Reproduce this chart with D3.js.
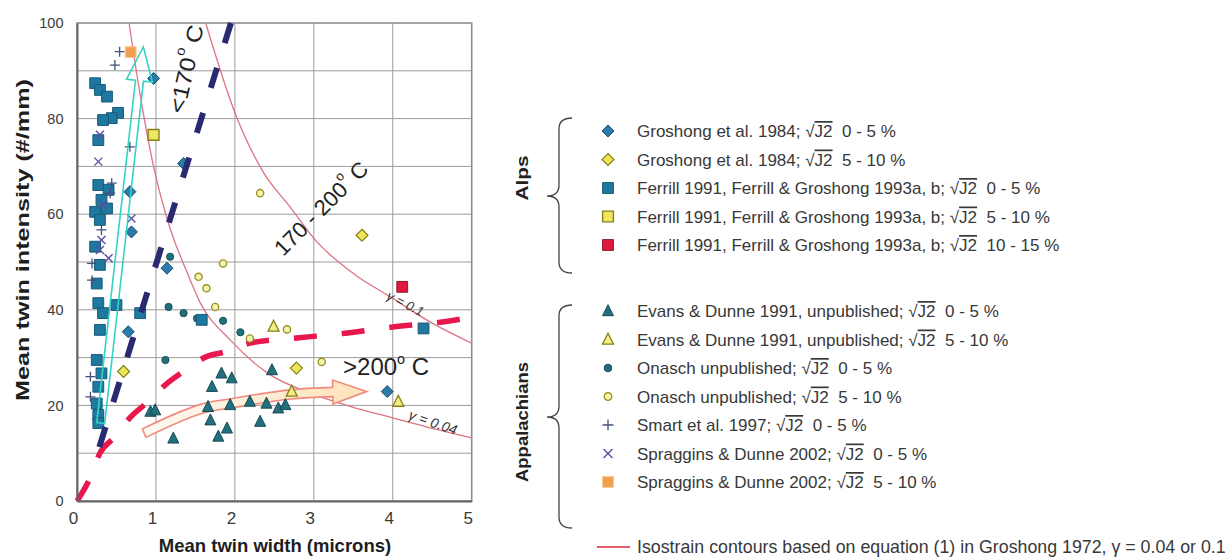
<!DOCTYPE html>
<html>
<head>
<meta charset="utf-8">
<script src="https://cdn.jsdelivr.net/npm/d3@7"></script>
<style>
  body { margin: 0; background: #fff; }
  svg text { font-family: "Liberation Sans", Arial, Helvetica, sans-serif; }
</style>
</head>
<body>
<svg id="chart" width="1226" height="560"></svg>
<script>
// ---- twin data: [mean twin width (microns), mean twin intensity (#/mm)] ----
const groshong05   = [[0.97,88.4],[1.35,70.6],[0.67,64.7],[0.69,56.3],[1.14,48.7],[0.65,35.4],[3.93,22.9]];
const groshong510  = [[0.59,27.1],[2.78,27.8],[3.61,55.6]];
const ferrill05    = [[0.23,87.4],[0.29,86.0],[0.38,84.6],[0.52,81.2],[0.44,80.1],[0.33,79.7],[0.27,75.5],
                      [0.27,66.1],[0.40,65.1],[0.31,63.0],[0.23,60.5],[0.38,61.2],[0.29,58.8],[0.23,53.2],
                      [0.29,49.4],[0.25,45.5],[0.27,41.4],[0.33,39.3],[0.50,41.0],[0.29,35.8],[0.25,29.5],
                      [0.31,26.7],[0.27,23.9],[0.25,20.4],[0.27,18.0],[0.27,16.3],[0.80,39.3],[1.58,37.9],[4.39,36.1]];
const ferrill510   = [[0.97,76.6]];
const ferrill1015  = [[4.12,44.8]];
const evans05      = [[0.93,18.7],[0.99,19.0],[1.22,13.1],[1.83,26.7],[1.96,25.7],[1.71,23.9],[2.47,27.4],
                      [1.66,19.7],[1.94,20.1],[2.19,20.8],[2.40,20.4],[2.55,19.4],[2.64,20.1],[1.69,16.9],
                      [1.90,15.2],[1.79,13.5],[2.32,16.6]];
const evans510     = [[2.49,36.5],[2.72,22.9],[4.07,20.8]];
const onasch05     = [[1.18,51.1],[1.16,40.6],[1.12,29.5],[1.35,39.3],[1.52,38.2],[1.85,37.7],[2.07,35.3]];
const onasch510    = [[2.32,64.4],[1.85,49.7],[1.54,46.9],[1.64,44.5],[1.75,40.6],[2.66,35.9],[3.10,29.1],[2.19,34.0]];
const smart05      = [[0.54,94.0],[0.48,91.2],[0.67,74.1],[0.44,66.5],[0.42,64.4],[0.31,56.7],[0.19,49.7],
                      [0.19,46.2],[0.17,26.0],[0.17,21.8]];
const spraggins05  = [[0.29,76.6],[0.27,71.0],[0.69,59.1],[0.31,54.6],[0.29,52.5],[0.40,50.8],[0.33,62.0]];
const spraggins510 = [[0.68,93.9]];

// legend texts
const sourceLabels = [
  "Groshong et al. 1984; ", "Groshong et al. 1984; ",
  "Ferrill 1991, Ferrill & Groshong 1993a, b; ", "Ferrill 1991, Ferrill & Groshong 1993a, b; ",
  "Ferrill 1991, Ferrill & Groshong 1993a, b; ",
  "Evans & Dunne 1991, unpublished; ", "Evans & Dunne 1991, unpublished; ",
  "Onasch unpublished; ", "Onasch unpublished; ", "Smart et al. 1997; ",
  "Spraggins & Dunne 2002; ", "Spraggins & Dunne 2002; "
];
const strainRanges = ["0 - 5 %","5 - 10 %","0 - 5 %","5 - 10 %","10 - 15 %","0 - 5 %","5 - 10 %",
                      "0 - 5 %","5 - 10 %","0 - 5 %","0 - 5 %","5 - 10 %"];
const regionLabels = ["Alps", "Appalachians"];
const contourLabel = "Isostrain contours based on equation (1) in Groshong 1972, \u03b3 = 0.04 or 0.1";

// isostrain contours (gamma = 0.04 and 0.1)
const isostrain004 = [[0.66,100],[0.78,87],[0.97,70],[1.18,57],[1.39,48],[1.56,41.5],[1.94,33.7],
                      [2.41,26.8],[3.0,22.3],[3.5,19.6],[4.0,17.4],[4.5,15.2],[5.0,13.2]];
const isostrain01  = [[1.63,100],[2.02,80.4],[2.36,68.8],[2.7,61.5],[3.04,54.2],[3.5,47.6],
                      [3.97,42.7],[4.5,37.2],[5.0,33.0]];
// temperature trend guides
const trendCool = [[0.24,9],[1.95,100]];
const trendWarm = [[0,0],[0.165,4.8],[0.29,10],[0.48,13.4],[0.67,17.4],[0.88,20.5],[1.12,24.3],
                   [1.34,27.0],[1.64,30.2],[1.88,31.2],[2.21,33.1],[2.78,34.1],[3.4,35.1],
                   [4.0,36.4],[4.6,37.4],[4.95,38.3]];
const arrowCool = [[0.30,16.3],[0.84,95.0]];
const arrowWarm = [[0.85,14.2],[1.56,19.2],[1.98,20.5],[2.70,22.3],[3.24,22.8],[3.67,22.9]];

const xTicks = [0,1,2,3,4,5];
const yTicks = [0,20,40,60,80,100];

// ---- scales ----
const x = d3.scaleLinear().domain([0,5]).range([77,471.7]);
const y = d3.scaleLinear().domain([0,100]).range([501,23]);

const svg = d3.select("#chart");

// marker shapes
const shapes = {
  square:   s => `M${-s},${-s}H${s}V${s}H${-s}Z`,
  diamond:  s => `M0,${-s}L${s},0L0,${s}L${-s},0Z`,
  triangle: s => `M0,${-s*1.15}L${s},${s*0.85}L${-s},${s*0.85}Z`,
  circle:   s => `M${s},0A${s},${s} 0 1,1 ${-s},0A${s},${s} 0 1,1 ${s},0Z`,
  plus:     s => `M${-s},0H${s}M0,${-s}V${s}`,
  cross:    s => `M${-s},${-s}L${s},${s}M${s},${-s}L${-s},${s}`
};

const series = [
  {data: groshong05,   shape:"diamond",  size:6,   fill:"#2b7cab", stroke:"#1a4c70", sw:1},
  {data: groshong510,  shape:"diamond",  size:6,   fill:"#ece55a", stroke:"#86801c", sw:1.2},
  {data: ferrill05,    shape:"square",   size:5.4, fill:"#1f789f", stroke:"#175a78", sw:1},
  {data: ferrill510,   shape:"square",   size:5.4, fill:"#eee85e", stroke:"#86801c", sw:1.4},
  {data: ferrill1015,  shape:"square",   size:5.4, fill:"#e0193f", stroke:"#8c1a2a", sw:1},
  {data: evans05,      shape:"triangle", size:5.5, fill:"#22707e", stroke:"#1a4a55", sw:1},
  {data: evans510,     shape:"triangle", size:5.5, fill:"#f2ee80", stroke:"#86801c", sw:1.3},
  {data: onasch05,     shape:"circle",   size:3.6, fill:"#1f7078", stroke:"#1a5058", sw:1},
  {data: onasch510,    shape:"circle",   size:3.6, fill:"#f6f3b0", stroke:"#98941e", sw:1.4},
  {data: smart05,      shape:"plus",     size:5,   fill:"none",    stroke:"#44507a", sw:1.3},
  {data: spraggins05,  shape:"cross",    size:4,   fill:"none",    stroke:"#5a4ea2", sw:1.4},
  {data: spraggins510, shape:"square",   size:5.4, fill:"#f3a04e", stroke:"#f7c894", sw:1}
];
series.forEach((s, i) => { s.label = sourceLabels[i]; s.range = strainRanges[i]; });

// ---- plot background grid ----
const plot = svg.append("g");
plot.append("g").selectAll("line").data(y.ticks(10).filter(v => v > 0 && v < 100)).join("line")
  .attr("x1", x(0)).attr("x2", x(5)).attr("y1", d => y(d)).attr("y2", d => y(d))
  .attr("stroke", "#9c9c9c").attr("stroke-width", 1);
plot.append("g").selectAll("line").data(x.ticks(5).filter(v => v > 0 && v < 5)).join("line")
  .attr("y1", y(0)).attr("y2", y(100)).attr("x1", d => x(d)).attr("x2", d => x(d))
  .attr("stroke", "#9c9c9c").attr("stroke-width", 1);
plot.append("rect").attr("x", x(0)).attr("y", y(100))
  .attr("width", x(5) - x(0)).attr("height", y(0) - y(100))
  .attr("fill", "none").attr("stroke", "#8e8e8e").attr("stroke-width", 1.6);

// ---- axes ----
const xAxis = svg.append("g").attr("transform", `translate(0,${y(0)})`)
  .call(d3.axisBottom(x).tickValues(xTicks).tickSize(0).tickPadding(11).tickFormat(d3.format("d")));
xAxis.select(".domain").attr("stroke", "#666").attr("stroke-width", 2);
xAxis.selectAll("text").attr("font-size", 17).attr("fill", "#3a3a3a").attr("dx", -4)
  .style("font-family", "'Liberation Sans', Arial, sans-serif");

const yAxis = svg.append("g").attr("transform", `translate(${x(0)},0)`)
  .call(d3.axisLeft(y).tickValues(yTicks).tickSize(0).tickPadding(13.5));
yAxis.select(".domain").attr("stroke", "#666").attr("stroke-width", 2);
yAxis.selectAll("text").attr("font-size", 14.5).attr("fill", "#3a3a3a")
  .style("font-family", "'Liberation Sans', Arial, sans-serif");

svg.append("text").attr("x", 275).attr("y", 552).attr("text-anchor", "middle")
  .attr("font-size", 18.5).attr("font-weight", "bold").attr("fill", "#1e1e1e")
  .text("Mean twin width (microns)");
svg.append("text").attr("transform", "translate(28.5,240) rotate(-90)")
  .attr("text-anchor", "middle").attr("font-size", 18).attr("font-weight", "bold").attr("fill", "#1e1e1e")
  .attr("textLength", 322).attr("lengthAdjust", "spacingAndGlyphs")
  .text("Mean twin intensity (#/mm)");

// ---- isostrain contours ----
const curve = d3.line().x(d => x(d[0])).y(d => y(d[1])).curve(d3.curveMonotoneX);
[isostrain004, isostrain01].forEach(c => {
  plot.append("path").attr("d", curve(c)).attr("fill", "none")
    .attr("stroke", "#dc7482").attr("stroke-width", 1.3);
});

// ---- warm-trend hollow arrow (curved) ----
const defs = svg.append("defs");
const grad = defs.append("linearGradient").attr("id", "warmFill")
  .attr("x1", "0%").attr("x2", "100%").attr("y1", "0%").attr("y2", "0%");
grad.append("stop").attr("offset", "0%").attr("stop-color", "#fffaf4");
grad.append("stop").attr("offset", "100%").attr("stop-color", "#fde2b8");

function hollowArrow(points, shaftW, headW) {
  const p = points.map(d => [x(d[0]), y(d[1])]);
  const n = p.length;
  const tip = p[n - 1], base = p[n - 2];
  const left = [], right = [];
  for (let i = 0; i < n - 1; i++) {
    const a = p[Math.max(0, i - 1)], b = p[Math.min(n - 1, i + 1)];
    const dx = b[0] - a[0], dy = b[1] - a[1], L = Math.hypot(dx, dy);
    const nx = -dy / L, ny = dx / L;
    left.push([p[i][0] + nx * shaftW, p[i][1] + ny * shaftW]);
    right.push([p[i][0] - nx * shaftW, p[i][1] - ny * shaftW]);
  }
  const hx = tip[0] - base[0], hy = tip[1] - base[1], hl = Math.hypot(hx, hy);
  const hnx = -hy / hl, hny = hx / hl;
  const edge = d3.line().curve(d3.curveCatmullRom);
  return edge(left) +
    `L${base[0] + hnx * headW},${base[1] + hny * headW}` +
    `L${tip[0]},${tip[1]}` +
    `L${base[0] - hnx * headW},${base[1] - hny * headW}` +
    edge(right.slice().reverse()).replace(/^M/, "L") + "Z";
}
plot.append("path").attr("d", hollowArrow(arrowWarm, 4.6, 12))
  .attr("fill", "url(#warmFill)").attr("stroke", "#f08a7c").attr("stroke-width", 1.6)
  .attr("stroke-linejoin", "miter");

// ---- warm dashed trend ----
plot.append("path").attr("d", curve(trendWarm)).attr("fill", "none")
  .attr("stroke", "#e8184c").attr("stroke-width", 5.5).attr("stroke-dasharray", "23,25");

// ---- data markers ----
const order = [5, 6, 7, 8, 2, 0, 1, 3, 4, 9, 10, 11];
order.forEach(i => {
  const s = series[i];
  plot.append("g").selectAll("path").data(s.data).join("path")
    .attr("transform", d => `translate(${x(d[0])},${y(d[1])})`)
    .attr("d", shapes[s.shape](s.size))
    .attr("fill", s.fill).attr("stroke", s.stroke).attr("stroke-width", s.sw);
});

// ---- cool dashed trend ----
const straight = d3.line().x(d => x(d[0])).y(d => y(d[1]));
plot.append("path").attr("d", straight(trendCool.slice().reverse())).attr("fill", "none")
  .attr("stroke", "#2a2a70").attr("stroke-width", 6).attr("stroke-dasharray", "21,26");

// ---- cool-trend hollow arrow ----
(function () {
  const T = [x(arrowCool[0][0]), y(arrowCool[0][1])];
  const P = [x(arrowCool[1][0]), y(arrowCool[1][1])];
  const dx = P[0] - T[0], dy = P[1] - T[1], L = Math.hypot(dx, dy);
  const ux = dx / L, uy = dy / L, nx = -uy, ny = ux;
  const w = 4, hw = 13, hl = 34;
  const B = [P[0] - ux * hl, P[1] - uy * hl];
  const pts = [
    [T[0] + nx * w, T[1] + ny * w], [B[0] + nx * w, B[1] + ny * w], [B[0] + nx * hw, B[1] + ny * hw],
    P, [B[0] - nx * hw, B[1] - ny * hw], [B[0] - nx * w, B[1] - ny * w], [T[0] - nx * w, T[1] - ny * w]
  ];
  plot.append("path").attr("d", d3.line()(pts) + "Z").attr("fill", "none")
    .attr("stroke", "#33d3c6").attr("stroke-width", 1.6);
})();

// ---- annotations ----
function degreeLabel(t, before, after) {
  t.append("tspan").text(before);
  t.append("tspan").attr("font-size", "0.6em").attr("dy", "-0.75em").text("o");
  t.append("tspan").attr("dy", "0.45em").text("\u00a0" + after);
}
const ann = svg.append("g").attr("fill", "#222");
degreeLabel(ann.append("text")
  .attr("transform", `translate(${x(1.38)},${y(90.4)}) rotate(-77)`)
  .attr("text-anchor", "middle").attr("dominant-baseline", "central").attr("font-size", 22)
  .attr("textLength", 90).attr("lengthAdjust", "spacingAndGlyphs"),
  "<170", "C");
degreeLabel(ann.append("text")
  .attr("transform", `translate(${x(3.09)},${y(61.3)}) rotate(-45)`)
  .attr("text-anchor", "middle").attr("dominant-baseline", "central").attr("font-size", 22),
  "170 - 200", "C");
degreeLabel(ann.append("text").attr("x", x(3.37)).attr("y", y(26.4)).attr("font-size", 24),
  ">200", "C");
ann.append("text").attr("transform", `translate(${x(4.16)},${y(41.3)}) rotate(27)`)
  .attr("text-anchor", "middle").attr("dominant-baseline", "central")
  .attr("font-size", 13).attr("font-style", "italic").attr("fill", "#333").text("\u03b3 = 0.1");
ann.append("text").attr("transform", `translate(${x(4.51)},${y(16.5)}) rotate(19)`)
  .attr("text-anchor", "middle").attr("dominant-baseline", "central")
  .attr("font-size", 14).attr("font-style", "italic").attr("fill", "#333").text("\u03b3 = 0.04");

// ---- legend ----
const legend = svg.append("g");
const rowY = i => i < 5 ? 131 + 28.5 * i : 311 + 28.5 * (i - 5);
series.forEach((s, i) => {
  const cy = rowY(i);
  const sz = s.shape === "circle" ? 3.8 : s.shape === "plus" ? 5.5 : s.shape === "cross" ? 4.5 : s.size;
  legend.append("path").attr("transform", `translate(608,${cy})`)
    .attr("d", shapes[s.shape](sz))
    .attr("fill", s.fill).attr("stroke", s.stroke).attr("stroke-width", s.sw);
  const t = legend.append("text").attr("x", 637).attr("y", cy + 6)
    .attr("font-size", 17).attr("fill", "#383838");
  t.append("tspan").text(s.label + "\u221a");
  t.append("tspan").style("text-decoration", "overline").text("J2");
  t.append("tspan").text("\u00a0\u00a0" + s.range);
});

// curly braces grouping the sources by region
function brace(top, bottom, tip, xEnd, xMid, xTip) {
  const r = 11;
  return `M${xEnd},${top} Q${xMid},${top} ${xMid},${top + r}` +
         `L${xMid},${tip - r} Q${xMid},${tip} ${xTip},${tip}` +
         ` Q${xMid},${tip} ${xMid},${tip + r}` +
         `L${xMid},${bottom - r} Q${xMid},${bottom} ${xEnd},${bottom}`;
}
legend.append("path").attr("d", brace(118, 273, 196, 572, 559, 547))
  .attr("fill", "none").attr("stroke", "#444").attr("stroke-width", 1.3);
legend.append("path").attr("d", brace(305, 528, 417, 572, 559, 547))
  .attr("fill", "none").attr("stroke", "#444").attr("stroke-width", 1.3);
legend.append("text").attr("transform", "translate(528,178) rotate(-90)").attr("text-anchor", "middle")
  .attr("font-size", 16).attr("font-weight", "bold").attr("fill", "#222")
  .attr("textLength", 45).attr("lengthAdjust", "spacingAndGlyphs").text(regionLabels[0]);
legend.append("text").attr("transform", "translate(528,422) rotate(-90)").attr("text-anchor", "middle")
  .attr("font-size", 16).attr("font-weight", "bold").attr("fill", "#222")
  .attr("textLength", 120).attr("lengthAdjust", "spacingAndGlyphs").text(regionLabels[1]);

legend.append("line").attr("x1", 597).attr("x2", 630).attr("y1", 547).attr("y2", 547)
  .attr("stroke", "#d8283c").attr("stroke-width", 1.5);
legend.append("text").attr("x", 637).attr("y", 553).attr("font-size", 17.8).attr("fill", "#383838")
  .text(contourLabel);
</script>
</body>
</html>
